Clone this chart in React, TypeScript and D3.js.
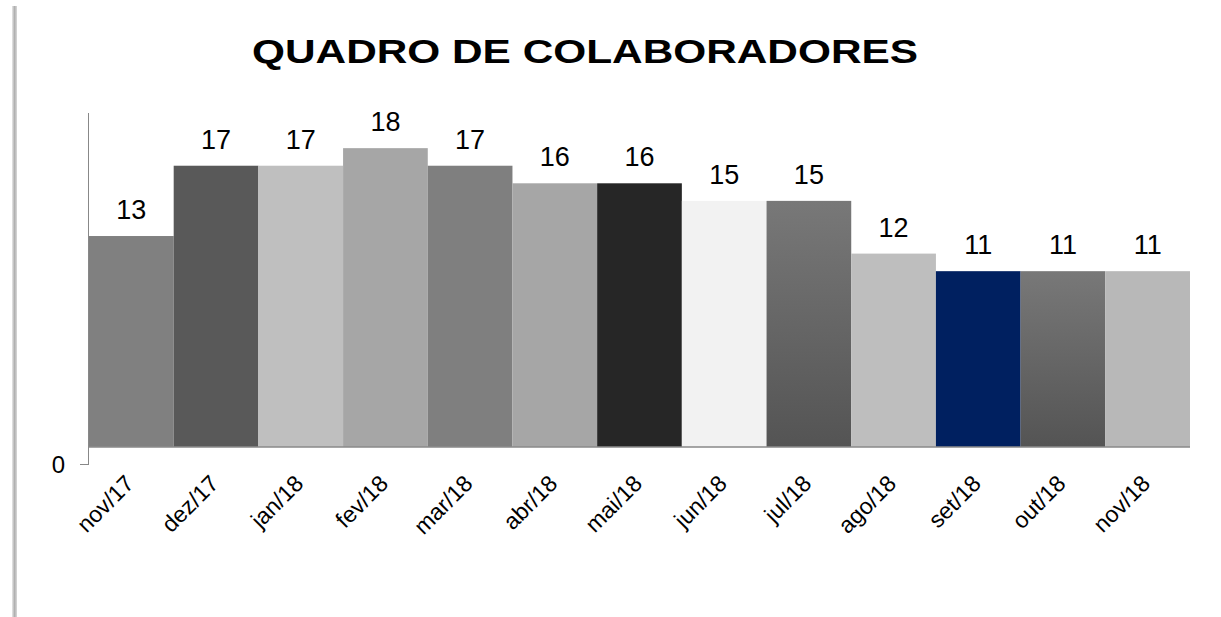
import React from "react";
import * as d3 from "d3";

const categories = ["nov/17","dez/17","jan/18","fev/18","mar/18","abr/18","mai/18","jun/18","jul/18","ago/18","set/18","out/18","nov/18"];
const values = [13,17,17,18,17,16,16,15,15,12,11,11,11];
const barFills = ["#808080","#595959","#bfbfbf","#a6a6a6","#7f7f7f","#a6a6a6","#262626","#f2f2f2","url(#gradDark)","#bebebe","#002060","url(#gradDark)","#b8b8b8"];
const yTicks = [0];
const axisCross = 1;
const title = "QUADRO DE COLABORADORES";

const W = 1221, H = 617;
const font = "'Liberation Sans', Arial, sans-serif";

export default function App() {
  const x = d3.scaleBand<string>().domain(categories).range([89, 1190]).padding(0);
  const y = d3.scaleLinear().domain([0, 20]).range([464.5, 113]);
  const base = y(axisCross);
  return (
    <svg width={W} height={H} style={{ position: "absolute", left: 0, top: 0 }} fontFamily={font}>
      <defs>
        <linearGradient id="gradDark" x1="0" y1="0" x2="0" y2="1">
          <stop offset="0" stopColor="#787878" />
          <stop offset="1" stopColor="#545454" />
        </linearGradient>
        <linearGradient id="edge" x1="0" y1="0" x2="1" y2="0">
          <stop offset="0" stopColor="#e8e8e8" />
          <stop offset="0.5" stopColor="#b0b0b0" />
          <stop offset="1" stopColor="#d8d8d8" />
        </linearGradient>
      </defs>
      <rect x={0} y={0} width={W} height={H} fill="#fff" />
      <rect x={12} y={6} width={5} height={H - 6} fill="url(#edge)" />
      <text x={252} y={63} fontWeight="bold" fontSize={34} fill="#000" textLength={666} lengthAdjust="spacingAndGlyphs">{title}</text>
      {categories.map((c, i) => (
        <rect key={c} x={x(c)} y={y(values[i])} width={x.bandwidth()} height={base - y(values[i])} fill={barFills[i]} />
      ))}
      <line x1={89} x2={1190} y1={base} y2={base} stroke="#888" strokeWidth={1.5} />
      <line x1={88.5} x2={88.5} y1={y(20)} y2={y(0)} stroke="#888" strokeWidth={1} />
      {yTicks.map(t => (
        <g key={t}>
          <line x1={80} x2={89} y1={y(t)} y2={y(t)} stroke="#888" strokeWidth={1} />
          <text x={65} y={y(t) + 8.5} textAnchor="end" fontSize={24} fill="#000">{t}</text>
        </g>
      ))}
      {categories.map((c, i) => (
        <text key={c + "v"} x={(x(c) as number) + x.bandwidth() / 2} y={y(values[i]) - 17} textAnchor="middle" fontSize={27} fill="#000">{values[i]}</text>
      ))}
      {categories.map(c => {
        const cx = (x(c) as number) + x.bandwidth() / 2 + 4;
        const cy = 485;
        return (
          <text key={c + "l"} x={cx} y={cy} textAnchor="end" fontSize={23} fill="#000" transform={`rotate(-45 ${cx} ${cy})`}>{c}</text>
        );
      })}
    </svg>
  );
}
